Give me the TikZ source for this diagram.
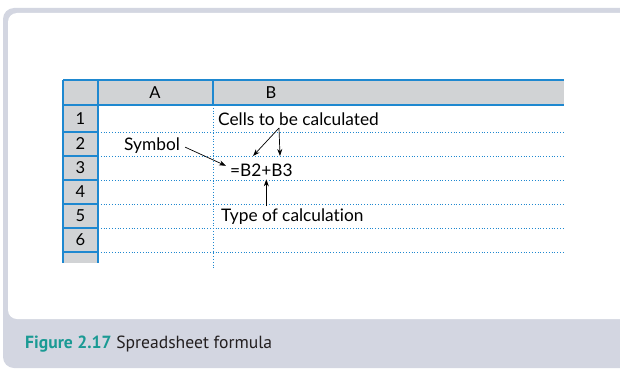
\documentclass[tikz,border=0pt]{standalone}
\usepackage{fontspec}
\setmainfont{Lato}[Ligatures=NoCommon]
\newfontfamily\capfont{PT Sans}
\usetikzlibrary{arrows.meta}
\definecolor{framegrey}{HTML}{D3D6E1}
\definecolor{cellgrey}{HTML}{D1D3D5}
\definecolor{gridblue}{HTML}{1E88D0}
\definecolor{capteal}{HTML}{1A9A94}
\definecolor{captext}{HTML}{231F20}
\tikzset{
  gridline/.style={gridblue,line width=1.2pt},
  dotline/.style={gridblue,line width=0.8pt,dotted},
  cellnum/.style={font=\fontsize{16.5}{19}\selectfont,inner sep=0pt},
  label/.style={font=\fontsize{17.3}{20}\selectfont,inner sep=0pt,anchor=base west},
  pointer/.style={-{Stealth[length=7pt,width=5pt]},line width=0.7pt}
}
\begin{document}
\begin{tikzpicture}[x=1pt,y=-1pt]
  \useasboundingbox (0,0) rectangle (620,369);
  \clip (0,0) rectangle (620,369);
  % frame
  \fill[framegrey,rounded corners=11pt] (3,8) rectangle (660,368);
  \fill[white,rounded corners=9pt] (8,13) rectangle (660,319);
  \node[anchor=base west,inner sep=0pt,font=\capfont\fontsize{17.6}{20}\selectfont] (caption) at (25,348)
    {\textcolor{capteal}{\bfseries Figure 2.17} \textcolor{captext}{Spreadsheet formula}};
  % grey header row and number column
  \fill[cellgrey] (63,80) rectangle (564,105);
  \fill[cellgrey] (63,105) rectangle (98,263);
  % dotted cell lines
  \foreach \y in {132,156,180,204,228,252}
    \draw[dotline] (98,\y) -- (564,\y);
  \draw[dotline] (213,105) -- (213,268);
  % solid grid lines
  \draw[gridline] (63,80) -- (564,80);
  \draw[gridline] (63,105) -- (564,105);
  \draw[gridline] (63,80) -- (63,263);
  \draw[gridline] (98,80) -- (98,263);
  \draw[gridline] (213,80) -- (213,105);
  \foreach \y in {132,156,180,204,228,252}
    \draw[gridline] (63,\y) -- (98,\y);
  % headings
  \node[cellnum] (hdrA) at (155,93) {A};
  \node[cellnum] (hdrB) at (271,93) {B};
  \foreach \n/\y in {1/119,2/144,3/168,4/192,5/216,6/240}
    \node[cellnum] (row\n) at (80.5,\y) {\n};
  % labels
  \node[label] (cells) at (218,125) {Cells to be calculated};
  \node[label] (symbol) at (124,150) {Symbol};
  \node[label] (formula) at (230,176) {=B2+B3};
  \node[label] (calctype) at (221,221) {Type of calculation};
  \coordinate (fork) at (279,128);
  \coordinate (tipB2) at (253,156);
  \coordinate (tipB3) at (280,156);
  \draw[pointer] (fork) -- (tipB2);
  \draw[pointer] (fork) -- (tipB3);
  \draw[pointer] ([xshift=5pt,yshift=-2pt]symbol.east) -- ([xshift=-4pt,yshift=4pt]formula.west);
  \draw[pointer] ([xshift=-26pt,yshift=2pt]calctype.north) -- ([xshift=-26pt,yshift=-3pt]calctype.north |- formula.south);
\end{tikzpicture}
\end{document}
